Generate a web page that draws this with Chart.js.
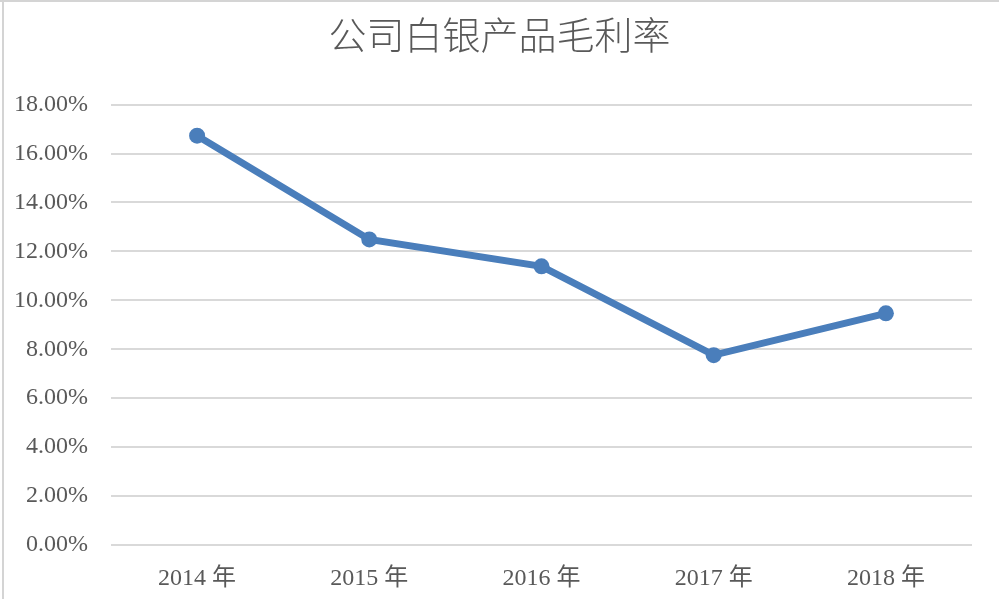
<!DOCTYPE html>
<html>
<head>
<meta charset="utf-8">
<script src="https://cdn.jsdelivr.net/npm/chart.js@4/dist/chart.umd.min.js"></script>
<style>
    html, body { margin: 0; padding: 0; background: #fff; }
    #wrap { position: relative; width: 999px; height: 599px; }
    #wrap .edge-left { position: absolute; left: 2px; top: 0; width: 2px; height: 599px; background: #d4d4d4; }
    #wrap .edge-top { position: absolute; left: 0; top: 0; width: 999px; height: 2px; background: #d4d4d4; }
</style>
</head>
<body>
<div id="wrap">
    <canvas id="marginChart" width="999" height="599"></canvas>
    <div class="edge-left"></div>
    <div class="edge-top"></div>
</div>
<script>
// Data
const chartTitle = '公司白银产品毛利率';
const years = ['2014 年', '2015 年', '2016 年', '2017 年', '2018 年'];
const grossMargin = [16.73, 12.49, 11.39, 7.76, 9.47]; // %
const yMin = 0;
const yMax = 18;
const yStep = 2;

const textColor = '#595959';
const lineColor = '#4a7ebb';

const ctx = document.getElementById('marginChart').getContext('2d');

new Chart(ctx, {
    type: 'line',
    data: {
        labels: years,
        datasets: [{
            label: chartTitle,
            data: grossMargin,
            borderColor: lineColor,
            backgroundColor: lineColor,
            borderWidth: 7,
            pointRadius: 8,
            pointHoverRadius: 8,
            pointBackgroundColor: lineColor,
            pointBorderWidth: 0,
            tension: 0,
            fill: false
        }]
    },
    options: {
        responsive: false,
        animation: false,
        layout: { padding: 0 },
        plugins: {
            legend: { display: false },
            tooltip: { enabled: false },
            title: {
                display: true,
                text: chartTitle,
                color: textColor,
                font: { family: '"Noto Sans CJK SC", sans-serif', size: 38, weight: '300' },
                padding: { top: 12, bottom: 47 }
            }
        },
        scales: {
            x: {
                offset: true,
                grid: { display: false, drawTicks: false },
                border: { display: false },
                ticks: {
                    color: textColor,
                    padding: 19,
                    font: { family: '"Liberation Serif", "Noto Sans CJK SC", serif', size: 24 }
                },
                afterFit: (scale) => { scale.height = 54; }
            },
            y: {
                min: yMin,
                max: yMax,
                grid: { color: '#d9d9d9', lineWidth: 2, drawTicks: false },
                border: { display: false },
                ticks: {
                    stepSize: yStep,
                    color: textColor,
                    padding: 23,
                    font: { family: '"Liberation Serif", serif', size: 24 },
                    callback: (v) => v.toFixed(2) + '%'
                },
                afterFit: (scale) => { scale.width = 111; }
            },
            // empty right-hand spacer so the plot ends at the same place as the original
            spacer: {
                type: 'linear',
                position: 'right',
                grid: { display: false, drawTicks: false },
                border: { display: false },
                ticks: { display: false },
                afterFit: (scale) => { scale.width = 27; }
            }
        }
    }
});
</script>
</body>
</html>
